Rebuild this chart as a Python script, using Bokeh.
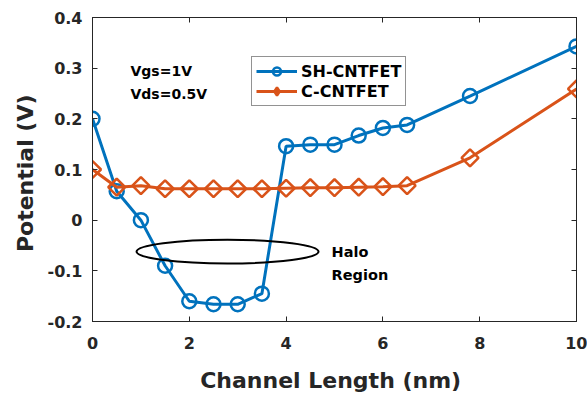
import numpy as np
from bokeh.plotting import figure
from bokeh.models import Range1d, LinearAxis, FixedTicker, Legend, LegendItem, ColumnDataSource
from bokeh.core.properties import value
from bokeh.embed import file_html
from bokeh.resources import INLINE

# ---- data ----
channel_nm = [0, 0.5, 1, 1.5, 2, 2.5, 3, 3.5, 4, 4.5, 5, 5.5, 6, 6.5, 7.8, 10]
sh_cntfet = [0.2, 0.057, 0.0, -0.09, -0.16, -0.166, -0.166, -0.145, 0.146, 0.149, 0.149,
             0.167, 0.182, 0.188, 0.245, 0.343]
c_cntfet = [0.1, 0.065, 0.068, 0.062, 0.062, 0.062, 0.062, 0.062, 0.063, 0.064, 0.064,
            0.065, 0.066, 0.068, 0.123, 0.259]
x_ticks = [0, 2, 4, 6, 8, 10]
y_ticks = [-0.2, -0.1, 0, 0.1, 0.2, 0.3, 0.4]
y_tick_labels = ["-0.2", "-0.1", "0", "0.1", "0.2", "0.3", "0.4"]
series_names = ["SH-CNTFET", "C-CNTFET"]
bias_text = ["Vgs=1V", "Vds=0.5V"]
halo_text = ["Halo", "Region"]

FONT = "DejaVu Sans"
DARK = "#262626"
BLUE = "#0072BD"
ORANGE = "#D95319"

p = figure(width=587, height=398, output_backend="svg", toolbar_location=None,
           x_range=Range1d(0, 10), y_range=Range1d(-0.2, 0.4),
           min_border_left=92, min_border_right=11, min_border_top=17, min_border_bottom=77)
p.xgrid.visible = False
p.ygrid.visible = False
p.outline_line_color = DARK
p.outline_line_width = 1
p.background_fill_color = "white"
p.border_fill_color = "white"

src = ColumnDataSource(dict(x=channel_nm, sh=sh_cntfet, c=c_cntfet))

l1 = p.line("x", "sh", source=src, line_color=BLUE, line_width=3)
m1 = p.scatter("x", "sh", source=src, marker="circle", size=14, fill_color=None,
               line_color=BLUE, line_width=2.5)
l2 = p.line("x", "c", source=src, line_color=ORANGE, line_width=3)
m2 = p.scatter("x", "c", source=src, marker="square", angle=np.pi / 4, size=12,
               fill_color=None, line_color=ORANGE, line_width=2.5)
# zero-size diamond used only so that the legend shows a diamond marker
m2_leg = p.scatter(x=channel_nm[:1], y=c_cntfet[:1], marker="diamond", size=0,
                   fill_color=None, line_color=ORANGE, line_width=2.5)

# halo ellipse annotation
p.ellipse(x=[2.79], y=[-0.062], width=[3.76], height=[0.047], fill_color=None,
          line_color="black", line_width=2)

p.text(x=[0.785, 0.785], y=[0.294, 0.25], text=bias_text, text_font=value(FONT),
       text_font_style="bold", text_font_size="14px", text_color="black",
       text_baseline="alphabetic", text_align="left")
p.text(x=[4.94, 4.94], y=[-0.062, -0.109], text=halo_text, text_font=value(FONT),
       text_font_style="bold", text_font_size="14.5px", text_color="black",
       text_baseline="alphabetic", text_align="left")

def style_axis(ax):
    ax.axis_line_color = DARK
    ax.axis_line_width = 1
    ax.major_tick_line_color = DARK
    ax.major_tick_in = 5
    ax.major_tick_out = 0
    ax.minor_tick_line_color = None
    ax.major_label_text_font = FONT
    ax.major_label_text_font_style = "bold"
    ax.major_label_text_font_size = "16px"
    ax.major_label_text_color = DARK
    ax.axis_label_text_font = FONT
    ax.axis_label_text_font_style = "bold"
    ax.axis_label_text_font_size = "22px"
    ax.axis_label_text_color = DARK

xa = p.xaxis[0]
ya = p.yaxis[0]
style_axis(xa)
style_axis(ya)
xa.ticker = FixedTicker(ticks=x_ticks)
ya.ticker = FixedTicker(ticks=y_ticks)
ya.major_label_overrides = {t: l for t, l in zip(y_ticks, y_tick_labels)}
xa.axis_label = "Channel Length  (nm)"
ya.axis_label = "Potential  (V)"
xa.major_label_standoff = 15
ya.major_label_standoff = 10
xa.axis_label_standoff = 16
ya.axis_label_standoff = 7

top = LinearAxis(ticker=FixedTicker(ticks=x_ticks))
right = LinearAxis(ticker=FixedTicker(ticks=y_ticks))
for ax in (top, right):
    style_axis(ax)
    ax.major_label_text_font_size = "0px"
    ax.major_label_text_color = None
    ax.major_label_standoff = 0
p.add_layout(top, "above")
p.add_layout(right, "right")

legend = Legend(items=[LegendItem(label=series_names[0], renderers=[l1, m1]),
                       LegendItem(label=series_names[1], renderers=[l2, m2_leg])],
                location=(159, 215))
legend.border_line_color = DARK
legend.border_line_width = 1
legend.background_fill_alpha = 1
legend.padding = 4
legend.margin = 0
legend.spacing = 0
legend.glyph_width = 41
legend.glyph_height = 20
legend.label_height = 20
legend.label_standoff = 4
legend.label_text_font = FONT
legend.label_text_font_style = "bold"
legend.label_text_font_size = "16px"
legend.label_text_color = "black"
p.add_layout(legend, "center")

open("out.html", "w").write(file_html(p, INLINE))
